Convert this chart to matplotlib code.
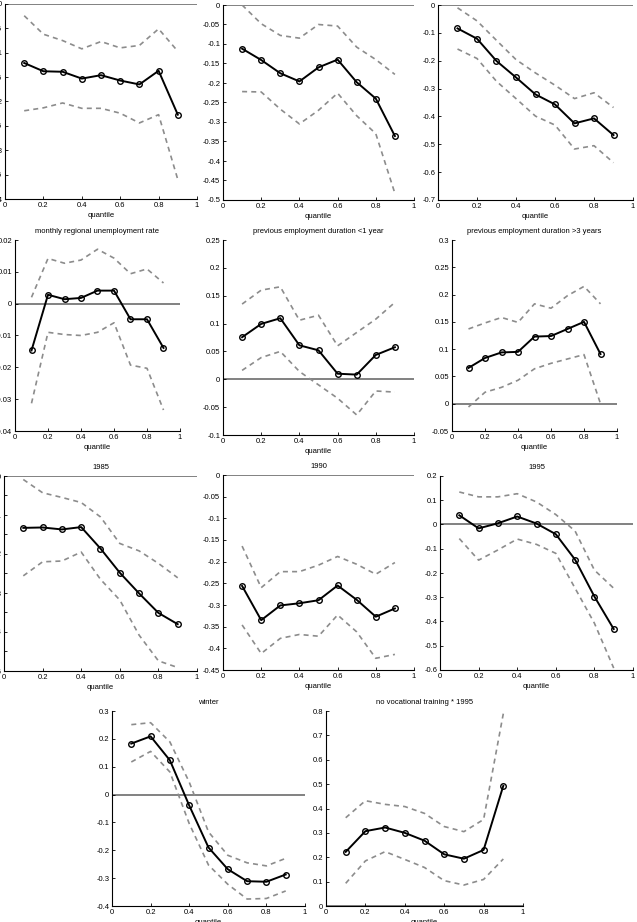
import numpy as np
import matplotlib
matplotlib.use("Agg")
import matplotlib.pyplot as plt

plt.rcParams["font.family"] = ["Liberation Sans", "DejaVu Sans"]

quantiles = [0.1, 0.2, 0.3, 0.4, 0.5, 0.6, 0.7, 0.8, 0.9]

titles = ["", "", "",
          "monthly regional unemployment rate",
          "previous employment duration <1 year",
          "previous employment duration >3 years",
          "1985", "1990", "1995",
          "winter", "no vocational training * 1995"]

# point estimates
est_1 = [-0.121, -0.138, -0.139, -0.153, -0.146, -0.157, -0.165, -0.137, -0.227]
est_2 = [-0.112, -0.141, -0.175, -0.196, -0.160, -0.140, -0.198, -0.240, -0.336]
est_3 = [-0.084, -0.121, -0.201, -0.260, -0.321, -0.357, -0.425, -0.407, -0.467]
est_4 = [-0.0147, 0.0028, 0.0014, 0.0018, 0.0041, 0.0041, -0.0049, -0.0049, -0.0139]
est_5 = [0.0755, 0.0994, 0.1096, 0.061, 0.052, 0.010, 0.0084, 0.0437, 0.0575]
est_6 = [0.0656, 0.0838, 0.094, 0.095, 0.123, 0.124, 0.137, 0.150, 0.091]
est_7 = [-0.133, -0.132, -0.137, -0.131, -0.186, -0.248, -0.301, -0.351, -0.380]
est_8 = [-0.256, -0.335, -0.301, -0.296, -0.289, -0.255, -0.288, -0.327, -0.308]
est_9 = [0.038, -0.016, 0.005, 0.033, 0.004, -0.040, -0.145, -0.297, -0.431]
est_10 = [0.183, 0.209, 0.123, -0.039, -0.190, -0.268, -0.311, -0.313, -0.287]
est_11 = [0.222, 0.307, 0.322, 0.300, 0.268, 0.212, 0.194, 0.230, 0.493]

# upper confidence bounds
up_1 = [-0.024, -0.062, -0.075, -0.092, -0.077, -0.090, -0.085, -0.051, -0.097]
up_2 = [0.0, -0.048, -0.078, -0.085, -0.050, -0.054, -0.108, -0.140, -0.178]
up_3 = [-0.010, -0.057, -0.127, -0.196, -0.244, -0.288, -0.336, -0.315, -0.368]
up_4 = [0.002, 0.0142, 0.0127, 0.0137, 0.0171, 0.0143, 0.0094, 0.0109, 0.0065]
up_5 = [0.135, 0.160, 0.166, 0.106, 0.115, 0.060, 0.084, 0.108, 0.138]
up_6 = [0.137, 0.148, 0.158, 0.149, 0.183, 0.175, 0.198, 0.215, 0.183]
up_7 = [-0.009, -0.043, -0.055, -0.068, -0.105, -0.173, -0.192, -0.224, -0.261]
up_8 = [-0.164, -0.260, -0.223, -0.223, -0.208, -0.188, -0.206, -0.229, -0.202]
up_9 = [0.134, 0.114, 0.114, 0.127, 0.093, 0.041, -0.027, -0.188, -0.263]
up_10 = [0.251, 0.258, 0.189, 0.045, -0.134, -0.218, -0.245, -0.256, -0.229]
up_11 = [0.362, 0.432, 0.417, 0.408, 0.380, 0.326, 0.305, 0.355, 0.789]

# lower confidence bounds
lo_1 = [-0.219, -0.213, -0.203, -0.214, -0.214, -0.224, -0.244, -0.227, -0.360]
lo_2 = [-0.222, -0.223, -0.267, -0.305, -0.270, -0.226, -0.284, -0.330, -0.483]
lo_3 = [-0.158, -0.192, -0.274, -0.336, -0.399, -0.431, -0.517, -0.505, -0.566]
lo_4 = [-0.0313, -0.009, -0.0097, -0.010, -0.009, -0.006, -0.0193, -0.0203, -0.0334]
lo_5 = [0.016, 0.039, 0.050, 0.014, -0.010, -0.034, -0.064, -0.021, -0.023]
lo_6 = [-0.006, 0.021, 0.030, 0.043, 0.064, 0.074, 0.082, 0.090, 0.0]
lo_7 = [-0.256, -0.220, -0.218, -0.195, -0.265, -0.318, -0.408, -0.474, -0.491]
lo_8 = [-0.346, -0.412, -0.377, -0.368, -0.372, -0.323, -0.362, -0.423, -0.414]
lo_9 = [-0.058, -0.147, -0.105, -0.060, -0.082, -0.119, -0.263, -0.407, -0.592]
lo_10 = [0.117, 0.155, 0.081, -0.104, -0.253, -0.322, -0.375, -0.373, -0.346]
lo_11 = [0.093, 0.185, 0.223, 0.191, 0.158, 0.104, 0.086, 0.109, 0.193]

estimates = [est_1, est_2, est_3, est_4, est_5, est_6, est_7, est_8, est_9, est_10, est_11]
uppers = [up_1, up_2, up_3, up_4, up_5, up_6, up_7, up_8, up_9, up_10, up_11]
lowers = [lo_1, lo_2, lo_3, lo_4, lo_5, lo_6, lo_7, lo_8, lo_9, lo_10, lo_11]

# y axis limits and tick steps per panel
ylims = [(-0.4, 0), (-0.5, 0), (-0.7, 0), (-0.04, 0.02), (-0.1, 0.25), (-0.05, 0.3),
         (-0.5, 0), (-0.45, 0), (-0.6, 0.2), (-0.4, 0.3), (0, 0.8)]
ysteps = [0.05, 0.05, 0.1, 0.01, 0.05, 0.05, 0.05, 0.05, 0.1, 0.1, 0.1]

# axes boxes in pixels: left, top, right, bottom
boxes = [(5, 4, 197, 199), (223, 5, 414, 200), (438, 5, 633, 200),
         (15, 240, 180, 431), (223, 240, 414, 435), (452, 240, 617, 431),
         (4, 476, 197, 671), (223, 475, 414, 670), (440, 476, 633, 670),
         (112, 711, 305, 906), (326, 711, 523, 906)]

W, H = 637, 922
fig = plt.figure(figsize=(W / 100, H / 100), dpi=100)


def fmt(v):
    s = "%g" % round(v, 4)
    return s


for i in range(11):
    l, t, r, b = boxes[i]
    ax = fig.add_axes([l / W, 1 - b / H, (r - l) / W, (b - t) / H])
    ax.axhline(0, color="#777777", lw=1.3, zorder=1)
    ax.plot(quantiles, uppers[i], "--", color="#8c8c8c", lw=1.2, dashes=(3, 2.5))
    ax.plot(quantiles, lowers[i], "--", color="#8c8c8c", lw=1.2, dashes=(3, 2.5))
    ax.plot(quantiles, estimates[i], "-o", color="black", lw=1.4,
            markersize=4, mfc="none", mew=1.0, zorder=3)
    ax.set_xlim(0, 1)
    ax.set_ylim(*ylims[i])
    ax.set_xticks([0, 0.2, 0.4, 0.6, 0.8, 1])
    ax.set_xticklabels(["0", "0.2", "0.4", "0.6", "0.8", "1"])
    yt = np.arange(ylims[i][0], ylims[i][1] + ysteps[i] / 2, ysteps[i])
    ax.set_yticks(yt)
    ax.set_yticklabels([fmt(v) if abs(v) > 1e-9 else "0" for v in yt])
    ax.spines["top"].set_visible(False)
    ax.spines["right"].set_visible(False)
    ax.spines["left"].set_linewidth(0.8)
    ax.spines["bottom"].set_linewidth(0.8)
    ax.tick_params(direction="in", length=2, width=0.6, labelsize=5.5, pad=2)
    ax.set_xlabel("quantile", fontsize=5.5, labelpad=2)
    if titles[i]:
        ax.set_title(titles[i], fontsize=5.5, pad=5)

fig.savefig("out.png", dpi=100)
